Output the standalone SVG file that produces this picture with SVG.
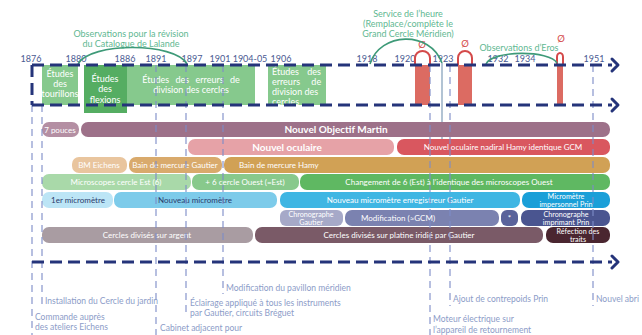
<svg xmlns="http://www.w3.org/2000/svg" width="642" height="335" viewBox="0 0 642 335">
<defs>
<style>
text{font-family:Lato,"Open Sans","Liberation Sans",sans-serif}
.yr{font-size:9px;fill:#4a5a92;text-anchor:middle}
.ann{font-size:8.5px;fill:#8c9cc8}
.gt{font-size:9px;fill:#fff;text-anchor:middle}
.bt{font-size:8px;fill:#fff;text-anchor:middle}
.st{text-anchor:start}
.sm{font-size:7.2px}
.bb{font-size:10px;fill:#fff;text-anchor:middle;font-weight:bold}
.nv{fill:#2a3a6a}
.gl{font-size:9px;fill:#5fb892;text-anchor:middle}
.main{stroke:#25347a;stroke-width:3;stroke-dasharray:12 6;fill:none}
.arr{stroke:#25347a;stroke-width:3;fill:none;stroke-linecap:round;stroke-linejoin:round}
.vd{stroke:#7d8cc8;stroke-width:1.3;stroke-dasharray:7 5;fill:none;opacity:0.85}
.red{fill:#dc6b62}
.arch{fill:none;stroke:#d44a4a;stroke-width:2}
.garc{fill:none;stroke:#3e9a78;stroke-width:1.6}
.oe{font-size:9.5px;fill:#d44a4a;text-anchor:middle}
</style>
</defs>

<g id="years">
<text class="yr" x="31" y="62">1876</text>
<text class="yr" x="76" y="62">1880</text>
<text class="yr" x="125" y="62">1886</text>
<text class="yr" x="156" y="62">1891</text>
<text class="yr" x="192" y="62">1897</text>
<text class="yr" x="220" y="62">1901</text>
<text class="yr" x="250" y="62">1904-05</text>
<text class="yr" x="281" y="62">1906</text>
<text class="yr" x="367" y="62">1918</text>
<text class="yr" x="405" y="62">1920</text>
<text class="yr" x="443" y="62">1923</text>
<text class="yr" x="498" y="62">1932</text>
<text class="yr" x="525" y="62">1934</text>
<text class="yr" x="594" y="62">1951</text>
</g>

<g id="studies">
<g id="tourillons">
<rect x="42" y="65" width="36" height="40" fill="#86c98d"/>
<text class="gt" x="60" y="77">Études</text>
<text class="gt" x="60" y="87">des</text>
<text class="gt" x="60" y="97" font-size="8.5">tourillons</text>
</g>
<g id="erreurs1">
<rect x="127" y="65" width="128" height="40" fill="#86c98d"/>
<text class="gt" x="191" y="83" word-spacing="4">Études des erreurs de</text>
<text class="gt" x="191" y="93">division des cercles</text>
</g>
<g id="flexions">
<rect x="84" y="65" width="43" height="48" fill="#55ad62"/>
<text class="gt" x="105" y="82">Études</text>
<text class="gt" x="105" y="92">des</text>
<text class="gt" x="105" y="103">flexions</text>
</g>
<g id="erreurs2">
<rect x="268" y="65" width="58" height="40" fill="#86c98d"/>
<text class="gt st" x="272" y="75" font-size="8.5" word-spacing="6">Études des</text>
<text class="gt st" x="272" y="85" font-size="8.5" word-spacing="9">erreurs de</text>
<text class="gt st" x="272" y="95" font-size="8.5">division des</text>
<text class="gt st" x="272" y="105" font-size="8.5">cercles</text>
</g>
</g>

<g id="interruptions">
<g id="int1">
<rect class="red" x="415" y="65" width="15" height="40"/>
<path class="arch" d="M415,65 V58 A7.5,7 0 0 1 430,58 V65"/>
<text class="oe" x="422" y="48">Ø</text>
</g>
<g id="int2">
<rect class="red" x="458" y="65" width="14" height="40"/>
<path class="arch" d="M458,65 V58 A7,7 0 0 1 472,58 V65"/>
<text class="oe" x="465" y="47">Ø</text>
</g>
<g id="int3">
<rect class="red" x="557" y="65" width="6" height="40"/>
<path class="arch" d="M557,65 V57 A3,4 0 0 1 563,57 V65"/>
<text class="oe" x="561" y="42">Ø</text>
</g>
</g>

<g id="observations">
<path class="garc" d="M78,64 C90,42 175,42 187,64"/>
<text class="gl" x="131" y="37">Observations pour la révision</text>
<text class="gl" x="131" y="47">du Catalogue de Lalande</text>
<path class="garc" d="M370,64 C380,32 430,30 442,63"/>
<line x1="442" y1="63" x2="442" y2="143" stroke="#7f9cb8" stroke-width="1.2"/>
<text class="gl" x="408" y="17">Service de l’heure</text>
<text class="gl" x="408" y="27">(Remplace/complète le</text>
<text class="gl" x="408" y="37">Grand Cercle Méridien)</text>
<path class="garc" d="M486,64 C492,50 550,50 557,63"/>
<text class="gl" x="519" y="51" font-size="8.5">Observations d’Eros</text>
</g>

<g id="bars">
<g id="row1">
<rect x="42" y="122" width="37" height="15" rx="7" fill="#b48fa3"/>
<text class="bt" x="60" y="132.5">7 pouces</text>
<rect x="81" y="122" width="529" height="15" rx="7" fill="#9d7189"/>
<text class="bb" x="336" y="133">Nouvel Objectif Martin</text>
</g>
<g id="row2">
<rect x="188" y="139" width="206" height="16" rx="7" fill="#e6a2a7"/>
<text class="bb" x="287" y="151">Nouvel oculaire</text>
<rect x="397" y="139" width="213" height="16" rx="7" fill="#d9575f"/>
<text class="bt" x="503" y="150">Nouvel oculaire nadiral Hamy identique GCM</text>
</g>
<g id="row3">
<rect x="72" y="157" width="55" height="16" rx="7" fill="#e9c59e"/>
<text class="bt" x="99" y="168">BM Eichens</text>
<rect x="129" y="157" width="93" height="16" rx="7" fill="#d9aa6c"/>
<text class="bt" x="175" y="168" font-size="7.6">Bain de mercure Gautier</text>
<rect x="224" y="157" width="386" height="16" rx="7" fill="#d1a155"/>
<text class="bt st" x="239" y="168">Bain de mercure Hamy</text>
</g>
<g id="row4">
<rect x="42" y="174" width="149" height="16" rx="7" fill="#a9d9a9"/>
<text class="bt" x="116" y="185">Microscopes cercle Est (6)</text>
<rect x="192" y="174" width="107" height="16" rx="7" fill="#88c98c"/>
<text class="bt" x="245" y="185">+ 6 cercle Ouest (=Est)</text>
<rect x="300" y="174" width="310" height="16" rx="7" fill="#5fb862"/>
<text class="bt" x="449" y="185">Changement de 6 (Est) à l’identique des microscopes Ouest</text>
</g>
<g id="row5">
<rect x="42" y="192" width="71" height="16" rx="7" fill="#bce5f6"/>
<text class="bt nv" x="78" y="203">1er micromètre</text>
<rect x="114" y="192" width="163" height="16" rx="7" fill="#7dcbea"/>
<text class="bt nv" x="195" y="203">Nouveau micromètre</text>
<rect x="280" y="192" width="240" height="16" rx="7" fill="#3fb6e3"/>
<text class="bt" x="400" y="203">Nouveau micromètre enregistreur Gautier</text>
<rect x="522" y="192" width="88" height="16" rx="7" fill="#1a9fd8"/>
<text class="bt sm" x="566" y="199">Micromètre</text>
<text class="bt sm" x="566" y="206.5">impersonnel Prin</text>
</g>
<g id="row6">
<rect x="280" y="210" width="63" height="16" rx="6" fill="#a6a9c8"/>
<text class="bt sm" x="311" y="217">Chronographe</text>
<text class="bt sm" x="311" y="224.5">Gautier</text>
<rect x="345" y="210" width="154" height="16" rx="7" fill="#7b82b0"/>
<text class="bt" x="398" y="221">Modification (≈GCM)</text>
<rect x="501" y="210" width="17" height="16" rx="6" fill="#5a639b"/>
<text class="bt" x="509.5" y="221">*</text>
<rect x="521" y="210" width="89" height="16" rx="7" fill="#4a5590"/>
<text class="bt sm" x="566" y="217">Chronographe</text>
<text class="bt sm" x="566" y="224.5">imprimant Prin</text>
</g>
<g id="row7">
<rect x="42" y="227" width="211" height="16" rx="7" fill="#a99ca2"/>
<text class="bt" x="147" y="238">Cercles divisés sur argent</text>
<rect x="255" y="227" width="288" height="16" rx="7" fill="#7a5a67"/>
<text class="bt" x="399" y="238">Cercles divisés sur platine iridié par Gautier</text>
<rect x="546" y="227" width="64" height="16" rx="7" fill="#4a2630"/>
<text class="bt sm" x="578" y="234">Réfection des</text>
<text class="bt sm" x="578" y="241.5">traits</text>
</g>
</g>

<g id="connectors">
<line class="vd" x1="32" y1="105" x2="32" y2="335"/>
<line class="vd" x1="42" y1="105" x2="42" y2="307"/>
<line class="vd" x1="156" y1="65" x2="156" y2="335"/>
<line class="vd" x1="186" y1="65" x2="186" y2="312"/>
<line class="vd" x1="223" y1="65" x2="223" y2="294"/>
<line class="vd" x1="430" y1="65" x2="430" y2="335"/>
<line class="vd" x1="450" y1="65" x2="450" y2="306"/>
<line class="vd" x1="593" y1="65" x2="593" y2="306"/>
<line class="main" x1="32" y1="65" x2="32" y2="105"/>
<line class="main" x1="32" y1="65" x2="612" y2="65"/>
<path class="arr" d="M612,59 L618,65 L612,71"/>
<line class="main" x1="32" y1="105" x2="612" y2="105"/>
<path class="arr" d="M612,99 L618,105 L612,111"/>
<line class="main" x1="32" y1="262" x2="612" y2="262"/>
<path class="arr" d="M612,256 L618,262 L612,268"/>
</g>

<g id="annotations">
<text class="ann" x="45" y="304">Installation du Cercle du jardin</text>
<text class="ann" x="35" y="320">Commande auprès</text>
<text class="ann" x="35" y="330">des ateliers Eichens</text>
<text class="ann" x="160" y="331">Cabinet adjacent pour</text>
<text class="ann" x="190" y="306">Éclairage appliqué à tous les instruments</text>
<text class="ann" x="190" y="316">par Gautier, circuits Bréguet</text>
<text class="ann" x="226" y="291">Modification du pavillon méridien</text>
<text class="ann" x="453" y="302">Ajout de contrepoids Prin</text>
<text class="ann" x="433" y="322">Moteur électrique sur</text>
<text class="ann" x="433" y="333">l’appareil de retournement</text>
<text class="ann" x="596" y="302">Nouvel abri</text>
</g>
</svg>
